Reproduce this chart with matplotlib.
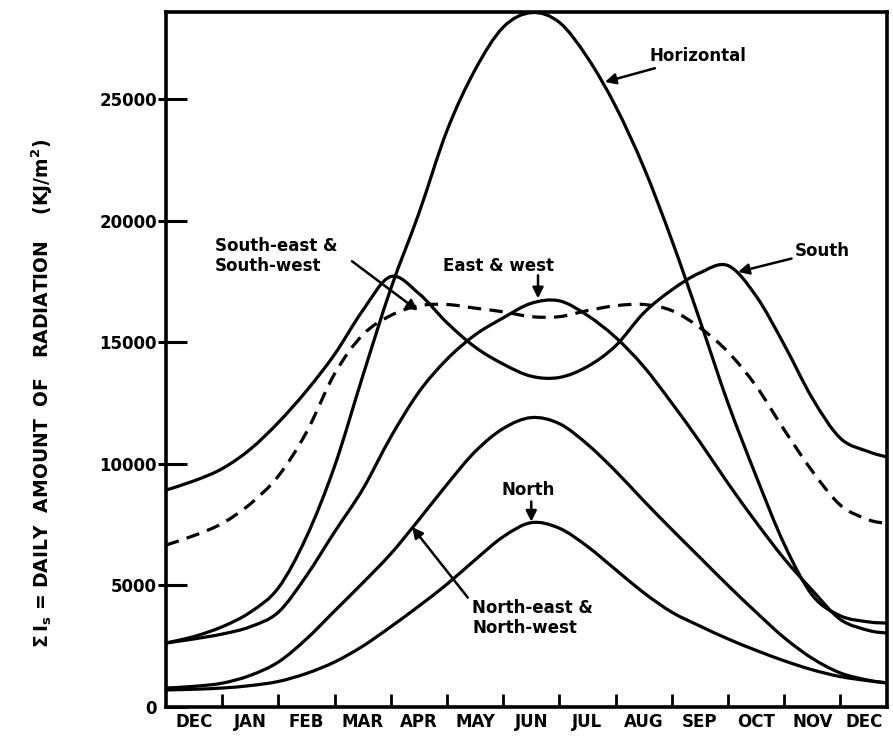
import matplotlib
matplotlib.use("Agg")
import matplotlib.pyplot as plt
from matplotlib.path import Path
from matplotlib.patches import PathPatch

# month position: 0 = left edge (mid-Dec), 1..12 = month boundaries
month_pos = [0, 0.5, 1, 1.5, 2, 2.5, 3, 3.5, 4, 4.5, 5, 5.5, 6, 6.5,
             7, 7.5, 8, 8.5, 9, 9.5, 10, 10.5, 11, 11.5, 12, 12.5, 12.83]

# daily radiation, kJ/m2
horizontal = [2630, 2900, 3300, 3900, 4900, 7000, 9900, 13600, 17200, 20300,
              23700, 26200, 27950, 28550, 28150, 26700, 24700, 22200, 19200,
              15900, 12500, 9500, 6700, 4600, 3750, 3500, 3450]
south = [8920, 9300, 9800, 10600, 11700, 13000, 14500, 16300, 17700, 17000,
         15800, 14800, 14100, 13600, 13550, 14000, 14850, 16200, 17150, 17850,
         18150, 16900, 14900, 12700, 11050, 10500, 10280]
east_west = [2630, 2800, 3000, 3300, 3900, 5400, 7200, 8950, 11100, 12950,
             14300, 15300, 16000, 16600, 16700, 16100, 15200, 14000, 12500,
             10900, 9200, 7600, 6100, 4800, 3600, 3150, 3040]
se_sw = [6660, 7050, 7550, 8350, 9500, 11300, 13700, 15300, 16100, 16500,
         16550, 16400, 16250, 16050, 16050, 16300, 16500, 16550, 16300, 15600,
         14600, 13200, 11400, 9700, 8300, 7700, 7550]
ne_nw = [780, 850, 980, 1300, 1850, 2800, 3950, 5100, 6300, 7700, 9150,
         10500, 11450, 11900, 11650, 10800, 9700, 8480, 7300, 6150, 5000,
         3900, 2850, 2000, 1400, 1100, 990]
north = [700, 730, 780, 880, 1050, 1380, 1850, 2500, 3300, 4150, 5050, 6050,
         7000, 7580, 7350, 6600, 5650, 4700, 3900, 3330, 2800, 2330, 1900,
         1530, 1250, 1080, 990]

month_labels = ["DEC", "JAN", "FEB", "MAR", "APR", "MAY", "JUN", "JUL",
                "AUG", "SEP", "OCT", "NOV", "DEC"]
label_pos = [0.5, 1.5, 2.5, 3.5, 4.5, 5.5, 6.5, 7.5, 8.5, 9.5, 10.5, 11.5, 12.42]
tick_pos = [1, 2, 3, 4, 5, 6, 7, 8, 9, 10, 11, 12]
y_ticks = [0, 5000, 10000, 15000, 20000, 25000]


def smooth_path(xs, ys):
    """Bezier path through the read points (Catmull-Rom style handles)."""
    pts = list(zip(xs, ys))
    n = len(pts)
    verts = [pts[0]]
    codes = [Path.MOVETO]
    for i in range(n - 1):
        p0 = pts[max(i - 1, 0)]
        p1 = pts[i]
        p2 = pts[i + 1]
        p3 = pts[min(i + 2, n - 1)]
        c1 = (p1[0] + (p2[0] - p0[0]) / 6, p1[1] + (p2[1] - p0[1]) / 6)
        c2 = (p2[0] - (p3[0] - p1[0]) / 6, p2[1] - (p3[1] - p1[1]) / 6)
        verts += [c1, c2, p2]
        codes += [Path.CURVE4] * 3
    return Path(verts, codes)


plt.rcParams["font.family"] = ["DejaVu Sans"]
plt.rcParams["font.weight"] = "bold"

fig = plt.figure(figsize=(8.93, 7.37), dpi=100)
ax = fig.add_axes([166 / 893, 30 / 737, 721 / 893, 695 / 737])

lw = 2.3
for series in (horizontal, south, east_west, ne_nw, north):
    ax.add_patch(PathPatch(smooth_path(month_pos, series), fill=False,
                           edgecolor="black", lw=lw, capstyle="round"))
ax.add_patch(PathPatch(smooth_path(month_pos, se_sw), fill=False,
                       edgecolor="black", lw=lw, linestyle=(0, (4.2, 2.6))))

ax.set_xlim(0, 12.83)
ax.set_ylim(0, 28577)

for sp in ax.spines.values():
    sp.set_linewidth(2.6)
    sp.set_zorder(3)

# x axis: boundary ticks inside, month names between them
ax.set_xticks(tick_pos, labels=[""] * len(tick_pos))
ax.set_xticks(label_pos, labels=month_labels, minor=True)
ax.tick_params(axis="x", which="major", direction="in", length=9.5, width=2)
ax.tick_params(axis="x", which="minor", length=0, pad=4, labelsize=12)

# y axis: ticks crossing the spine
ax.yaxis.remove_overlapping_locs = False
ax.set_yticks(y_ticks, labels=[str(v) for v in y_ticks])
ax.set_yticks(y_ticks[1:], minor=True)
ax.tick_params(axis="y", which="major", direction="in", length=15, width=2.2,
               pad=6.5, labelsize=12)
ax.tick_params(axis="y", which="minor", direction="out", length=6, width=2.2)

fig.text(42 / 893, 1 - 393 / 737,
         r"$\mathbf{\Sigma\,I_s}$ = DAILY  AMOUNT  OF   RADIATION    (KJ/m$\mathbf{^2}$)",
         rotation=90, ha="center", va="center", fontsize=13.5, fontweight="bold")

arrow = dict(arrowstyle="-|>", color="black", lw=1.8, mutation_scale=16,
             shrinkA=0, shrinkB=0)
txt = dict(fontsize=12, fontweight="bold")

ax.annotate("Horizontal", xy=(7.81, 25700), xytext=(8.6, 26750),
            ha="left", va="center", arrowprops=arrow, **txt)
ax.annotate("South", xy=(10.18, 17890), xytext=(11.18, 18750),
            ha="left", va="center", arrowprops=arrow, **txt)
ax.annotate("East & west", xy=(6.62, 16800), xytext=(5.92, 18150),
            ha="center", va="center", **txt)
ax.annotate("", xy=(6.62, 16800), xytext=(6.62, 17750), arrowprops=arrow)
ax.annotate("South-east &\nSouth-west", xy=(4.48, 16300), xytext=(0.87, 18550),
            ha="left", va="center", linespacing=1.15, **txt)
ax.annotate("", xy=(4.48, 16300), xytext=(3.31, 18330), arrowprops=arrow)
ax.annotate("North", xy=(6.5, 7620), xytext=(6.45, 8920),
            ha="center", va="center", **txt)
ax.annotate("", xy=(6.5, 7620), xytext=(6.5, 8450), arrowprops=arrow)
ax.annotate("North-east &\nNorth-west", xy=(4.38, 7400), xytext=(5.45, 3650),
            ha="left", va="center", linespacing=1.15, **txt)
ax.annotate("", xy=(4.38, 7400), xytext=(5.37, 4500), arrowprops=arrow)

fig.savefig("out.png", dpi=100, facecolor="white")
